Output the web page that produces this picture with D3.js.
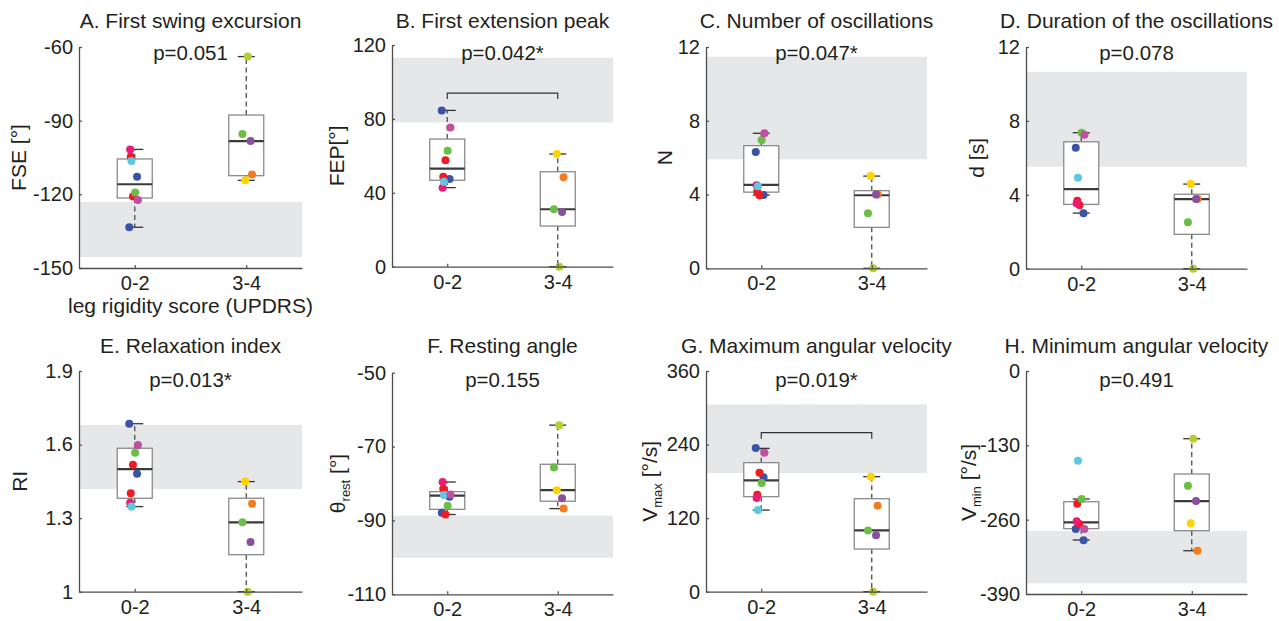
<!DOCTYPE html>
<html>
<head>
<meta charset="utf-8">
<script src="https://cdn.jsdelivr.net/npm/d3@7"></script>
<style>
  body { margin: 0; background: #fff; }
  text { font-family: "Liberation Sans", Arial, Helvetica, sans-serif; fill: #231f20; }
</style>
</head>
<body>
<svg id="chart" width="1279" height="621"></svg>
<script>
// ---------------- DATA ----------------
const categories = ["0-2", "3-4"];
const titles = ["A. First swing excursion", "B. First extension peak", "C. Number of oscillations",
  "D. Duration of the oscillations", "E. Relaxation index", "F. Resting angle",
  "G. Maximum angular velocity", "H. Minimum angular velocity"];
const pLabels = ["p=0.051", "p=0.042*", "p=0.047*", "p=0.078", "p=0.013*", "p=0.155", "p=0.019*", "p=0.491"];
const xAxisTitle = "leg rigidity score (UPDRS)";
const yTicks = [
  [-150, -120, -90, -60], [0, 40, 80, 120], [0, 4, 8, 12], [0, 4, 8, 12],
  [1, 1.3, 1.6, 1.9], [-110, -90, -70, -50], [0, 120, 240, 360], [-390, -260, -130, 0]
];

// patients, group 0-2: blue1, blue2, red1, red2, pink, cyan, green, orchid
const colors02 = ["#3a53a4", "#3a53a4", "#ed1c24", "#ed1c24", "#ec1a78", "#5ec8e2", "#6abd45", "#c24f9f"];
// patients, group 3-4: yellowgreen, green, purple, orange, yellow
const colors34 = ["#b4cf32", "#6abd45", "#8b4f9f", "#f47b20", "#ffd200"];

// A. First swing excursion
const fse02 = [-133.4, -112.8, -120.9, -104.7, -101.7, -106.4, -119.3, -122.3];
const fse34 = [-63.9, -95.4, -98.3, -111.9, -114.3];
const fseBox02 = [-133.4, -121.5, -115.9, -105.6, -101.7]; // lo, q1, median, q3, hi
const fseBox34 = [-114.3, -112.4, -98.3, -87.7, -63.9];
const fseNormal = [-145.5, -123.1];
// B. First extension peak
const fep02 = [84.6, 47.5, 57.6, 48.7, 42.8, 46.0, 62.8, 75.4];
const fep34 = [0, 31.1, 29.6, 48.4, 61.0];
const fepBox02 = [42.8, 46.8, 53.1, 69.1, 84.6];
const fepBox34 = [0, 22.0, 31.1, 51.4, 61.0];
const fepNormal = [78.1, 113.1];
const fepBracket = 94;
// C. Number of oscillations
const nOsc02 = [6.31, 3.97, 3.96, 4.15, 4.5, 4.45, 6.96, 7.32];
const nOsc34 = [0, 2.98, 4.0, 4.0, 5.0];
const nOscBox02 = [3.97, 4.13, 4.52, 6.65, 7.32];
const nOscBox34 = [0, 2.22, 3.96, 4.21, 5.0];
const nOscNormal = [5.91, 11.47];
// D. Duration of the oscillations
const dOsc02 = [6.55, 3.0, 3.45, 3.68, 3.54, 4.92, 7.36, 7.25];
const dOsc34 = [0, 2.52, 3.77, 3.77, 4.58];
const dOscBox02 = [3.01, 3.48, 4.31, 6.87, 7.36];
const dOscBox34 = [0, 1.86, 3.77, 4.03, 4.58];
const dOscNormal = [5.52, 10.66];
// E. Relaxation index
const ri02 = [1.685, 1.481, 1.518, 1.401, 1.363, 1.347, 1.567, 1.598];
const ri34 = [1.0, 1.283, 1.203, 1.359, 1.449];
const riBox02 = [1.347, 1.381, 1.50, 1.585, 1.685];
const riBox34 = [1.0, 1.151, 1.283, 1.381, 1.449];
const riNormal = [1.419, 1.68];
// F. Resting angle
const rest02 = [-87.9, -83.6, -88.4, -81.4, -79.6, -83.1, -86.0, -83.0];
const rest34 = [-64.2, -75.7, -84.0, -86.8, -81.8];
const restBox02 = [-88.4, -87.0, -83.3, -82.2, -79.6];
const restBox34 = [-86.8, -84.8, -81.8, -74.8, -64.2];
const restNormal = [-100.1, -88.7];
// G. Maximum angular velocity
const vmax02 = [234.4, 186.6, 194.1, 158.2, 152.8, 133.2, 177.3, 226.8];
const vmax34 = [0, 100, 92, 140.3, 187.6];
const vmaxBox02 = [133.2, 155.0, 181.6, 210.5, 233.8];
const vmaxBox34 = [0, 69.6, 100, 151.7, 187.6];
const vmaxNormal = [193.6, 305.6];
const vmaxBracket = 259.4;
// H. Minimum angular velocity
const vmin02 = [-276.3, -296.1, -267.6, -232.0, -262.9, -156.9, -223.9, -276.3];
const vmin34 = [-118.4, -200.6, -227.4, -314.3, -266.4];
const vminBox02 = [-295.6, -275.8, -264.6, -228.6, -223.9];
const vminBox34 = [-314.3, -279.3, -227.4, -180.1, -118.4];
const vminNormal = [-371.3, -279.8];

const values02 = [fse02, fep02, nOsc02, dOsc02, ri02, rest02, vmax02, vmin02];
const values34 = [fse34, fep34, nOsc34, dOsc34, ri34, rest34, vmax34, vmin34];
const boxes02 = [fseBox02, fepBox02, nOscBox02, dOscBox02, riBox02, restBox02, vmaxBox02, vminBox02];
const boxes34 = [fseBox34, fepBox34, nOscBox34, dOscBox34, riBox34, restBox34, vmaxBox34, vminBox34];
const normals = [fseNormal, fepNormal, nOscNormal, dOscNormal, riNormal, restNormal, vmaxNormal, vminNormal];
const brackets = [null, fepBracket, null, null, null, null, vmaxBracket, null];

// ---------------- LAYOUT ----------------
const frames = [
  {l: 79, r: 302, t: 47, b: 268}, {l: 392, r: 613, t: 45, b: 266.7},
  {l: 706, r: 927, t: 47, b: 268.3}, {l: 1026, r: 1247, t: 47, b: 268.7},
  {l: 79, r: 302, t: 371, b: 591.7}, {l: 392, r: 613, t: 372.7, b: 594.3},
  {l: 706, r: 927, t: 371, b: 591.7}, {l: 1026, r: 1247, t: 371, b: 594}
];
const yLabelOffset = [53, 48, 34, 42, 52, 47, 49, 50];
const jitter02 = [-5.5, 2.3, -1.8, -4.0, -4.6, -3.3, 0.4, 3.2];
const jitter34 = [1.5, -3.8, 4.3, 5.8, -1.0];
const drawOrder34 = [0, 1, 3, 2, 4];
const boxHalf = 17.5, capHalf = 8.5, dotR = 4;
const axisColor = "#4d4d4d";

const svg = d3.select("#chart");
svg.append("rect").attr("width", 1279).attr("height", 621).attr("fill", "#fff");

function yLabel(g, i, x, cy) {
  const t = g.append("text")
    .attr("transform", `translate(${x},${cy}) rotate(-90)`)
    .attr("text-anchor", "middle")
    .attr("font-size", 21);
  if (i === 0) t.text("FSE [°]");
  else if (i === 1) t.text("FEP[°]");
  else if (i === 2) t.text("N");
  else if (i === 3) t.text("d [s]");
  else if (i === 4) t.text("RI");
  else {
    const main = i === 5 ? "θ" : "V";
    const sub = i === 5 ? "rest" : (i === 6 ? "max" : "min");
    const unit = i === 5 ? " [°]" : " [°/s]";
    t.append("tspan").text(main);
    t.append("tspan").attr("font-size", 13).attr("dy", 5).text(sub);
    t.append("tspan").attr("dy", -5).text(unit);
  }
}

frames.forEach((f, i) => {
  const g = svg.append("g");
  const ticks = yTicks[i];
  const x = d3.scaleLinear().domain([0.5, 2.5]).range([f.l, f.r]);
  const y = d3.scaleLinear().domain([d3.min(ticks), d3.max(ticks)]).range([f.b, f.t]);
  const cx = (f.l + f.r) / 2;

  // normal range band
  const n = normals[i];
  g.append("rect")
    .attr("x", f.l).attr("width", f.r - f.l)
    .attr("y", y(n[1])).attr("height", y(n[0]) - y(n[1]))
    .attr("fill", "#e6e7e8");

  // boxes
  [boxes02[i], boxes34[i]].forEach((bx, k) => {
    const c = x(k + 1);
    const [lo, q1, med, q3, hi] = bx;
    g.append("line").attr("x1", c).attr("x2", c).attr("y1", y(q3)).attr("y2", y(hi))
      .attr("stroke", axisColor).attr("stroke-width", 1.3).attr("stroke-dasharray", "5,3.5");
    g.append("line").attr("x1", c).attr("x2", c).attr("y1", y(q1)).attr("y2", y(lo))
      .attr("stroke", axisColor).attr("stroke-width", 1.3).attr("stroke-dasharray", "5,3.5");
    [lo, hi].forEach(v => g.append("line")
      .attr("x1", c - capHalf).attr("x2", c + capHalf).attr("y1", y(v)).attr("y2", y(v))
      .attr("stroke", "#333").attr("stroke-width", 1.3));
    g.append("rect").attr("x", c - boxHalf).attr("width", 2 * boxHalf)
      .attr("y", y(q3)).attr("height", y(q1) - y(q3))
      .attr("fill", "#fff").attr("stroke", "#8a8a8a").attr("stroke-width", 1.3);
    g.append("line").attr("x1", c - boxHalf).attr("x2", c + boxHalf).attr("y1", y(med)).attr("y2", y(med))
      .attr("stroke", "#3a3a3a").attr("stroke-width", 2.2);
  });

  // bracket
  if (brackets[i] !== null) {
    const by = y(brackets[i]);
    g.append("path")
      .attr("d", `M${x(1)},${by + 6}V${by}H${x(2)}V${by + 6}`)
      .attr("fill", "none").attr("stroke", "#333").attr("stroke-width", 1.2);
  }

  // points
  values02[i].forEach((v, j) => {
    g.append("circle").attr("cx", x(1) + jitter02[j]).attr("cy", y(v)).attr("r", dotR).attr("fill", colors02[j]);
  });
  drawOrder34.forEach(j => {
    const v = values34[i][j];
    g.append("circle").attr("cx", x(2) + jitter34[j]).attr("cy", y(v)).attr("r", dotR).attr("fill", colors34[j]);
  });

  // axes
  const ay = g.append("g").attr("transform", `translate(${f.l},0)`)
    .call(d3.axisLeft(y).tickValues(ticks).tickSize(-3).tickSizeOuter(0).tickPadding(6)
      .tickFormat(d => String(d)));
  const ax = g.append("g").attr("transform", `translate(0,${f.b})`)
    .call(d3.axisBottom(x).tickValues([1, 2]).tickSize(-3).tickSizeOuter(0).tickPadding(8)
      .tickFormat(d => categories[d - 1]));
  [ay, ax].forEach(a => {
    a.select(".domain").attr("stroke", axisColor).attr("stroke-width", 1.3);
    a.selectAll(".tick line").attr("stroke", axisColor).attr("stroke-width", 1.2);
    a.selectAll(".tick text").attr("font-size", 20).attr("fill", "#231f20")
      .style("font-family", "'Liberation Sans', Arial, sans-serif");
  });

  // titles / p
  const top = i < 4;
  g.append("text").attr("x", cx).attr("y", top ? 28 : 353).attr("text-anchor", "middle")
    .attr("font-size", 21).text(titles[i]);
  g.append("text").attr("x", cx).attr("y", top ? 60 : 387).attr("text-anchor", "middle")
    .attr("font-size", 20.5).text(pLabels[i]);

  yLabel(g, i, f.l - yLabelOffset[i], (f.t + f.b) / 2);

  if (i === 0) {
    g.append("text").attr("x", cx).attr("y", 313).attr("text-anchor", "middle")
      .attr("font-size", 21).text(xAxisTitle);
  }
});
</script>
</body>
</html>
